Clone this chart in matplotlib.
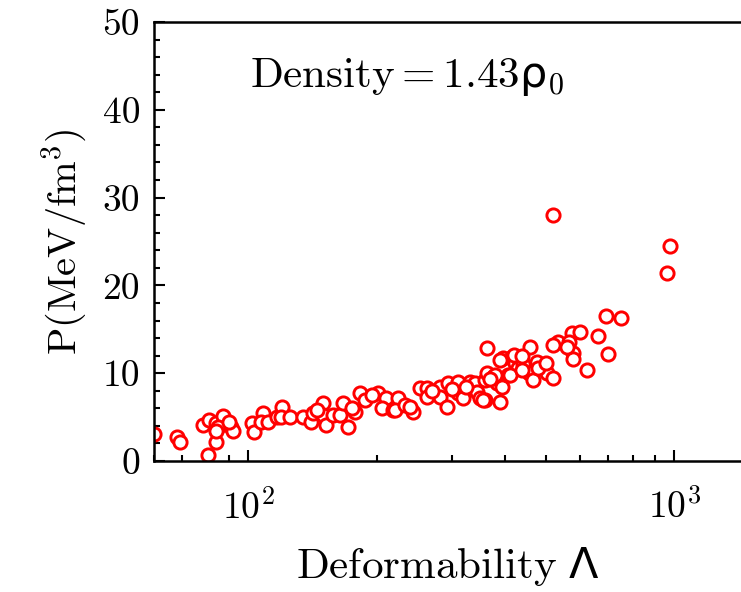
import numpy as np
import matplotlib
matplotlib.use("Agg")
import matplotlib.pyplot as plt
from matplotlib.ticker import MultipleLocator, FuncFormatter, LogLocator

plt.rcParams['font.family'] = 'cmr10'
plt.rcParams['mathtext.fontset'] = 'custom'
plt.rcParams['mathtext.rm'] = 'cmr10'
plt.rcParams['mathtext.it'] = 'cmmi10'
plt.rcParams['mathtext.sf'] = 'DejaVu Sans'
plt.rcParams['mathtext.fallback'] = 'cm'
plt.rcParams['axes.unicode_minus'] = False
plt.rcParams['axes.formatter.use_mathtext'] = True

# Tidal deformability (Lambda) and pressure P (MeV/fm^3)
lam = [60, 68, 69, 78, 80.5, 84, 81, 84, 87, 85, 84, 91, 92, 90, 102, 103, 108, 107, 111, 117,
       120, 119, 125, 134, 140, 142, 150, 150, 152, 158, 164, 167, 171, 178, 183, 188, 202, 210, 206, 218,
       225, 221, 233, 244, 253, 263, 263, 282, 282, 293, 295, 310, 311, 320, 332, 341, 345, 350, 360, 360,
       364, 364, 376, 384, 395, 390, 396, 407, 416, 423, 430, 520, 980, 960, 693, 750, 661, 700, 625, 576,
       600, 534, 520, 565, 580, 580, 459, 476, 442, 420, 457, 503, 520, 412, 467, 380,
       145, 175, 195, 240, 270, 300, 325, 370, 440, 480, 500, 560, 440, 390, 355]
pres = [3.1, 2.7, 2.2, 4.1, 0.7, 2.2, 4.7, 4.3, 5.1, 3.9, 3.4, 3.9, 3.4, 4.4, 4.3, 3.3, 5.5, 4.4, 4.4, 5.0,
        6.2, 5.0, 5.0, 5.0, 4.4, 5.5, 6.6, 5.2, 4.1, 5.2, 5.2, 6.6, 3.9, 5.6, 7.7, 6.9, 7.7, 7.2, 6.0, 5.8,
        7.2, 5.8, 6.4, 5.6, 8.3, 8.3, 7.3, 8.4, 7.3, 6.2, 8.9, 9.0, 7.7, 7.2, 9.0, 8.9, 7.9, 7.2, 6.9, 9.2,
        10.0, 12.9, 9.6, 8.9, 8.4, 6.7, 11.7, 9.8, 11.8, 11.2, 10.6, 28.0, 24.5, 21.4, 16.5, 16.3, 14.2, 12.2, 10.4, 14.6,
        14.7, 13.6, 13.2, 13.6, 12.3, 11.6, 13.0, 11.3, 11.0, 12.1, 10.0, 10.0, 9.5, 9.8, 9.2, 9.8,
        5.8, 6.0, 7.5, 6.2, 8.0, 8.2, 8.4, 9.3, 10.4, 10.6, 11.2, 13.0, 12.0, 11.5, 7.0]

fig = plt.figure(figsize=(7.41, 5.92), dpi=100)
ax = fig.add_axes([154/741, 131/592, 1 - 154/741, 439/592])

ax.plot(lam, pres, linestyle='none', marker='o', markersize=9.5, markerfacecolor='white',
        markeredgecolor='#ff0000', markeredgewidth=2.1)

ax.set_xscale('log')
ax.set_xlim(60, 1436)
ax.set_ylim(0, 50)

ax.yaxis.set_major_locator(MultipleLocator(10))
ax.yaxis.set_minor_locator(MultipleLocator(2))
ax.yaxis.set_major_formatter(FuncFormatter(lambda v, p: '%d' % int(round(v))))
ax.xaxis.set_major_locator(LogLocator(base=10))
ax.xaxis.set_minor_locator(LogLocator(base=10, subs=np.arange(2, 10)))
ax.xaxis.set_major_formatter(FuncFormatter(lambda v, p: r'$\mathrm{10}^{%d}$' % int(round(np.log10(v)))))
ax.xaxis.set_minor_formatter(FuncFormatter(lambda v, p: ''))

ax.tick_params(which='both', direction='in', top=False, right=False, width=1.5, labelsize=27)
ax.tick_params(axis='y', which='major', length=8, pad=10)
ax.tick_params(axis='x', which='major', length=8, pad=20)
ax.tick_params(which='minor', length=4.5)

for s in ['left', 'bottom', 'top']:
    ax.spines[s].set_linewidth(1.8)
ax.spines['right'].set_visible(False)

ax.set_xlabel(r'$\mathrm{Deformability}\ \mathsf{\Lambda}$', fontsize=31, labelpad=14)
ax.set_ylabel(r'$\mathrm{P(MeV/fm^{3})}$', fontsize=29, labelpad=10)

ax.text(0.163, 0.875, r'$\mathrm{Density} = \mathrm{1.43}\mathsf{\rho}_\mathrm{0}$', transform=ax.transAxes,
        fontsize=31, va='center', ha='left')

fig.savefig('out.png', dpi=100)
